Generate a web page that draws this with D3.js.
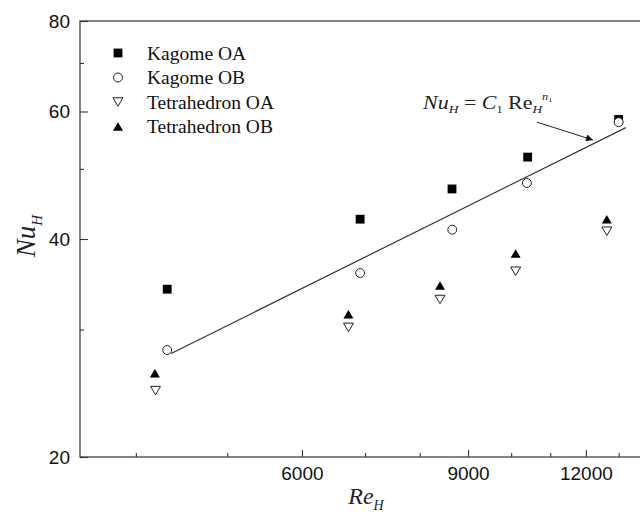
<!DOCTYPE html>
<html>
<head>
<meta charset="utf-8">
<script src="https://cdn.jsdelivr.net/npm/d3@7"></script>
<style>
  html, body { margin: 0; padding: 0; background: #fff; }
  svg { display: block; }
</style>
</head>
<body>
<svg id="chart" width="640" height="515"></svg>
<script>
// ---- data ----
const seriesNames = ["Kagome OA", "Kagome OB", "Tetrahedron OA", "Tetrahedron OB"];
const reKagomeOA = [4318, 6916, 8655, 10410, 13000];
const nuKagomeOA = [34.1, 42.6, 46.9, 51.9, 58.5];
const reKagomeOB = [4318, 6916, 8660, 10390, 13000];
const nuKagomeOB = [28.1, 35.9, 41.2, 47.8, 58.0];
const reTetraOA  = [4197, 6722, 8405, 10110, 12630];
const nuTetraOA  = [24.7, 30.2, 33.0, 36.1, 41.0];
const reTetraOB  = [4190, 6720, 8405, 10110, 12630];
const nuTetraOB  = [26.1, 31.5, 34.5, 38.2, 42.6];
// power-law fit line end points
const fitRe = [4360, 13230];
const fitNu = [27.8, 57.0];
// annotation arrow (data coords)
const arrowRe = [10650, 12210];
const arrowNu = [58.0, 54.8];
const annotRe = 8065, annotNu = 60.4;
// ticks
const xMajorTicks = [6000, 9000, 12000];
const xMinorTicks = [4000, 5000, 7000, 8000, 10000, 11000, 13000];
const yMajorTicks = [20, 40, 60, 80];
const yMinorTicks = [30, 50, 70];

// ---- layout ----
const svg = d3.select("#chart");
const mLeft = 80, mTop = 21, mBottom = 457, mRight = 649;
const x = d3.scaleLog().domain([3490, 14000]).range([mLeft, mRight]);
const y = d3.scaleLog().domain([20, 80]).range([mBottom, mTop]);
const axisColor = "#333";
const sans = "'Liberation Sans', Arial, sans-serif";
const serif = "'Liberation Serif', 'Times New Roman', serif";

// frame
svg.append("rect").attr("x", mLeft).attr("y", mTop)
  .attr("width", mRight - mLeft).attr("height", mBottom - mTop)
  .attr("fill", "none").attr("stroke", axisColor).attr("stroke-width", 1.2);

// axes
function styleAxis(g) {
  g.select(".domain").remove();
  g.selectAll(".tick line").attr("stroke", axisColor).attr("stroke-width", 1.1);
  g.selectAll(".tick text").attr("fill", "#111").style("font-family", sans).style("font-size", "19px");
}
svg.append("g").attr("transform", `translate(0,${mBottom})`)
  .call(d3.axisBottom(x).tickValues(xMajorTicks).tickFormat(d3.format("d"))
    .tickSizeInner(-7).tickSizeOuter(0).tickPadding(10))
  .call(styleAxis);
svg.append("g").attr("transform", `translate(0,${mBottom})`)
  .call(d3.axisBottom(x).tickValues(xMinorTicks).tickFormat("")
    .tickSizeInner(-4).tickSizeOuter(0))
  .call(styleAxis);
svg.append("g").attr("transform", `translate(${mLeft},0)`)
  .call(d3.axisLeft(y).tickValues(yMajorTicks).tickFormat(d3.format("d"))
    .tickSizeInner(-8).tickSizeOuter(0).tickPadding(10))
  .call(styleAxis);
svg.append("g").attr("transform", `translate(${mLeft},0)`)
  .call(d3.axisLeft(y).tickValues(yMinorTicks).tickFormat("")
    .tickSizeInner(-4).tickSizeOuter(0))
  .call(styleAxis);

// axis titles
const xt = svg.append("text").attr("x", 366).attr("y", 504)
  .attr("text-anchor", "middle").style("font-family", serif).style("font-size", "24px")
  .style("font-style", "italic").attr("fill", "#222");
xt.append("tspan").text("Re");
xt.append("tspan").attr("dy", 6).style("font-size", "14px").text("H");

const yt = svg.append("text").attr("transform", "translate(35,236) rotate(-90)")
  .attr("text-anchor", "middle").style("font-family", serif).style("font-size", "27px")
  .style("font-style", "italic").attr("fill", "#222");
yt.append("tspan").text("Nu");
yt.append("tspan").attr("dy", 7).style("font-size", "15px").text("H");

// fit line
const line = d3.line().x((d, i) => x(fitRe[i])).y(d => y(d));
svg.append("path").attr("d", line(fitNu)).attr("fill", "none")
  .attr("stroke", "#333").attr("stroke-width", 1.2);

// markers
function triPath(up, w, h) {
  return up ? `M0,${-h/2}L${w/2},${h/2}L${-w/2},${h/2}Z`
            : `M0,${h/2}L${w/2},${-h/2}L${-w/2},${-h/2}Z`;
}
const markerDefs = [
  { re: reKagomeOA, nu: nuKagomeOA, path: d3.symbol(d3.symbolSquare, 78)(), fill: "#000", stroke: "none" },
  { re: reKagomeOB, nu: nuKagomeOB, path: d3.symbol(d3.symbolCircle, 62)(), fill: "#fff", stroke: "#222" },
  { re: reTetraOA,  nu: nuTetraOA,  path: triPath(false, 10, 8.5), fill: "#fff", stroke: "#222" },
  { re: reTetraOB,  nu: nuTetraOB,  path: triPath(true, 10, 8.5), fill: "#000", stroke: "none" }
];
markerDefs.forEach(s => {
  svg.append("g").selectAll("path").data(s.nu).join("path")
    .attr("d", s.path)
    .attr("transform", (d, i) => `translate(${x(s.re[i])},${y(d)})`)
    .attr("fill", s.fill).attr("stroke", s.stroke).attr("stroke-width", 1);
});

// legend
const legend = svg.append("g");
seriesNames.forEach((name, i) => {
  const cy = 53 + i * 24.5;
  legend.append("path").attr("d", markerDefs[i].path)
    .attr("transform", `translate(118,${cy})`)
    .attr("fill", markerDefs[i].fill).attr("stroke", markerDefs[i].stroke).attr("stroke-width", 1);
  legend.append("text").attr("x", 147).attr("y", cy + 6.5)
    .style("font-family", serif).style("font-size", "19.5px").attr("fill", "#111").text(name);
});

// annotation
const defs = svg.append("defs");
defs.append("marker").attr("id", "ah").attr("viewBox", "0 0 10 10")
  .attr("refX", 10).attr("refY", 5).attr("markerWidth", 11).attr("markerHeight", 7)
  .attr("markerUnits", "userSpaceOnUse").attr("orient", "auto")
  .append("path").attr("d", "M0,0L10,5L0,10Z").attr("fill", "#111");
svg.append("line")
  .attr("x1", x(arrowRe[0])).attr("y1", y(arrowNu[0]))
  .attr("x2", x(arrowRe[1])).attr("y2", y(arrowNu[1]))
  .attr("stroke", "#222").attr("stroke-width", 1).attr("marker-end", "url(#ah)");

const at = svg.append("text")
  .attr("transform", `translate(${x(annotRe)},${y(annotNu)}) scale(1.22,1)`)
  .style("font-family", serif).style("font-size", "18px").attr("fill", "#222");
at.append("tspan").style("font-style", "italic").text("Nu");
at.append("tspan").style("font-style", "italic").style("font-size", "11px").attr("dy", 4).text("H");
at.append("tspan").attr("dy", -4).text(" = ");
at.append("tspan").style("font-style", "italic").text("C");
at.append("tspan").style("font-size", "10px").attr("dy", 4).text("1");
at.append("tspan").attr("dy", -4).text(" Re");
at.append("tspan").style("font-style", "italic").style("font-size", "11px").attr("dy", 4).text("H");
at.append("tspan").style("font-style", "italic").style("font-size", "10px").attr("dy", -13).text("n");
at.append("tspan").style("font-size", "7px").attr("dy", 2).text("1");
</script>
</body>
</html>
